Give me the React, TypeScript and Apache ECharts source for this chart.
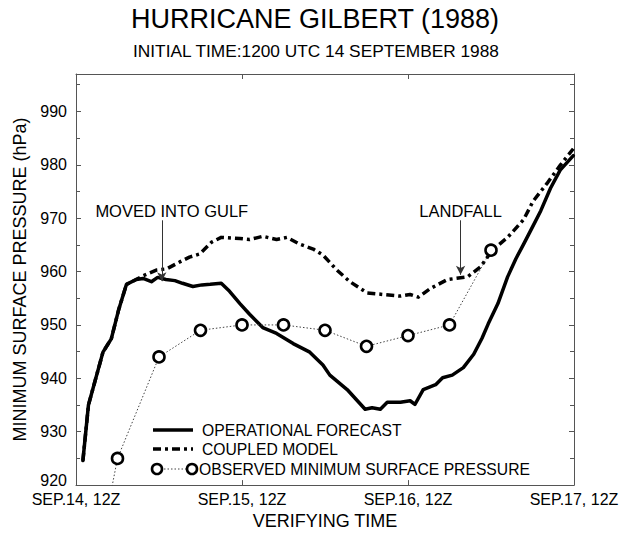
import React, { useEffect, useRef } from "react";
import * as echarts from "echarts";

const xTickLabels = ["SEP.14, 12Z", "SEP.15, 12Z", "SEP.16, 12Z", "SEP.17, 12Z"];

const opHours = [1, 1.8, 3.9, 5.1, 6.2, 7.3, 8.7, 9.7, 10.9, 11.8, 13, 14.3, 15.4, 16.9, 18.2, 19.4, 21, 22.2, 23.7, 25.1, 27, 29, 31.4, 33.8, 35.7, 36.7, 39.2, 41.8, 42.8, 44, 45, 46.9, 48.3, 49, 50.2, 52, 53, 54.4, 56, 57.5, 58.7, 59.6, 61, 62.4, 63.6, 64.7, 66.1, 67.2, 68.6, 70, 71.9];
const opValues = [924.6, 935, 944.9, 947.4, 953, 957.6, 958.5, 958.7, 958.1, 958.9, 958.5, 958.3, 957.8, 957.2, 957.5, 957.6, 957.8, 956.3, 954, 952, 949.5, 948.4, 946.5, 944.9, 942.5, 940.6, 937.9, 934.2, 934.5, 934.2, 935.5, 935.5, 935.8, 935.1, 937.9, 938.8, 940.1, 940.6, 942, 944.5, 947.5, 950.2, 954, 959, 962.4, 965.1, 968.6, 971.4, 975.6, 979, 981.7];

const cpHours = [1, 1.8, 3.9, 5.1, 6.2, 7.3, 8.7, 9.7, 11.7, 13.1, 15, 16.4, 17.9, 19.6, 21, 23.7, 25.1, 27, 29, 30.5, 32.4, 34.3, 35.7, 37.7, 39.6, 42.1, 44.4, 46.9, 48.3, 49.5, 51.2, 53.7, 56.6, 58.5, 60.2, 62.4, 64.7, 66.1, 68.1, 70, 71.9];
const cpValues = [924.6, 935, 944.9, 947.4, 953, 957.6, 958.5, 959.2, 960.3, 960.5, 961.8, 962.7, 963.3, 965.5, 966.4, 966.2, 966, 966.6, 966, 966.4, 965.1, 964.2, 963.1, 960.3, 958.1, 956, 955.7, 955.4, 955.7, 955.2, 956.8, 958.5, 959, 960.9, 964, 966.4, 969.7, 973.2, 976.5, 979.9, 983];

const obsHours = [0, 6, 12, 18, 24, 30, 36, 42, 48, 54, 60];
const obsValues = [885, 925, 944, 949, 950, 950, 949, 946, 948, 950, 964];

const seriesNames = ["OPERATIONAL FORECAST", "COUPLED MODEL", "OBSERVED MINIMUM SURFACE PRESSURE"];

const FONT = '"Liberation Sans", Arial, Helvetica, sans-serif';
const INK = "#000";
const FRAME = "#555";
const DASHDOT = [8, 4, 3, 4];

export default function App() {
  const ref = useRef<HTMLDivElement>(null);
  useEffect(() => {
    document.body.style.margin = "0";
    const chart = echarts.init(ref.current!, undefined, { renderer: "svg" });
    const pair = (h: number[], v: number[]) => h.map((x, i) => [x, v[i]]);
    const tickFmt = (v: number) => {
      if (v % 10 !== 0) return "";
      return v === 920 ? "{up|" + v + "}" : String(v);
    };
    const xFmt = (v: number) => {
      const i = Math.round(v / 24);
      return v % 24 === 0 && xTickLabels[i] ? xTickLabels[i] : "";
    };
    const annotate = (text: string, h: number, top: number, bottom: number, pad: number) => ({
      silent: true,
      symbol: ["none", "arrow"],
      symbolSize: [7, 9],
      lineStyle: { type: "solid", width: 1, color: "#333" },
      label: {
        show: true,
        position: "start",
        formatter: text,
        fontFamily: FONT,
        fontSize: 16.5,
        color: INK,
        distance: 1,
        padding: [0, 0, 0, pad],
      },
      data: [[{ coord: [h, top] }, { coord: [h, bottom] }]],
    });
    chart.setOption({
      animation: false,
      grid: { left: 76, right: 54, top: 74, bottom: 43 },
      xAxis: [
        {
          type: "value",
          min: 0,
          max: 72,
          interval: 24,
          name: "VERIFYING TIME",
          nameLocation: "middle",
          nameGap: 22,
          nameTextStyle: { fontFamily: FONT, fontSize: 18, color: INK },
          axisLine: { show: true, lineStyle: { color: FRAME, width: 1 } },
          axisTick: { show: true, inside: true, length: 5, lineStyle: { color: FRAME } },
          axisLabel: { formatter: xFmt, fontFamily: FONT, fontSize: 16, color: INK, margin: 6 },
          splitLine: { show: false },
        },
        {
          type: "value",
          position: "top",
          min: 0,
          max: 72,
          interval: 24,
          axisLine: { show: true, onZero: false, lineStyle: { color: FRAME, width: 1 } },
          axisTick: { show: true, inside: true, length: 5, lineStyle: { color: FRAME } },
          axisLabel: { show: false },
          splitLine: { show: false },
        },
      ],
      yAxis: [
        {
          type: "value",
          min: 920,
          max: 997,
          interval: 10,
          name: "MINIMUM SURFACE PRESSURE (hPa)",
          nameLocation: "middle",
          nameGap: 45,
          nameTextStyle: { fontFamily: FONT, fontSize: 18, color: INK },
          axisLine: { show: true, lineStyle: { color: FRAME, width: 1 } },
          axisTick: { show: true, inside: true, length: 5, lineStyle: { color: FRAME } },
          minorTick: { show: true, splitNumber: 2, length: 4, lineStyle: { color: FRAME } },
          axisLabel: {
            formatter: tickFmt,
            fontFamily: FONT,
            fontSize: 16,
            color: INK,
            margin: 9,
            showMaxLabel: false,
            rich: { up: { fontFamily: FONT, fontSize: 16, color: INK, padding: [0, 0, 9, 0] } },
          },
          splitLine: { show: false },
        },
        {
          type: "value",
          position: "right",
          min: 920,
          max: 997,
          interval: 10,
          axisLine: { show: true, onZero: false, lineStyle: { color: FRAME, width: 1 } },
          axisTick: { show: true, inside: true, length: 5, lineStyle: { color: FRAME } },
          minorTick: { show: true, splitNumber: 2, length: 4, lineStyle: { color: FRAME } },
          axisLabel: { show: false },
          splitLine: { show: false },
        },
      ],
      series: [
        {
          name: seriesNames[0],
          type: "line",
          data: pair(opHours, opValues),
          showSymbol: false,
          symbol: "none",
          lineStyle: { color: "#000", width: 3.5, join: "round", cap: "round" },
          z: 3,
          markLine: annotate("MOVED INTO GULF", 12.4, 969.6, 958.2, 20),
        },
        {
          name: seriesNames[1],
          type: "line",
          data: pair(cpHours, cpValues),
          showSymbol: false,
          symbol: "none",
          lineStyle: { color: "#000", width: 3.5, type: DASHDOT, join: "round" },
          z: 4,
          markLine: annotate("LANDFALL", 55.6, 969.6, 959.4, 0),
        },
        {
          name: seriesNames[2],
          type: "line",
          data: pair(obsHours, obsValues),
          symbol: "circle",
          symbolSize: 11,
          showSymbol: true,
          itemStyle: { color: "#fff", borderColor: "#000", borderWidth: 2.6 },
          lineStyle: { color: "#444", width: 1, type: [1.5, 2] },
          z: 5,
        },
      ],
      graphic: [
        {
          type: "text",
          x: 315,
          y: 19,
          style: { text: "HURRICANE GILBERT (1988)", fontFamily: FONT, fontSize: 27, fill: INK, textAlign: "center", textVerticalAlign: "middle" },
        },
        {
          type: "text",
          x: 316,
          y: 51,
          style: { text: "INITIAL TIME:1200 UTC 14 SEPTEMBER 1988", fontFamily: FONT, fontSize: 17.3, fill: INK, textAlign: "center", textVerticalAlign: "middle" },
        },
        { type: "line", shape: { x1: 153, y1: 430, x2: 193, y2: 430 }, style: { stroke: "#000", lineWidth: 3.5 } },
        { type: "line", shape: { x1: 153, y1: 449, x2: 193, y2: 449 }, style: { stroke: "#000", lineWidth: 3.5, lineDash: DASHDOT } },
        { type: "line", shape: { x1: 157, y1: 469, x2: 192, y2: 469 }, style: { stroke: "#444", lineWidth: 1, lineDash: [1.5, 2] } },
        { type: "circle", shape: { cx: 157, cy: 469, r: 5 }, style: { fill: "#fff", stroke: "#000", lineWidth: 2.6 } },
        { type: "circle", shape: { cx: 192, cy: 469, r: 5 }, style: { fill: "#fff", stroke: "#000", lineWidth: 2.6 } },
        { type: "text", x: 202, y: 430, style: { text: seriesNames[0], fontFamily: FONT, fontSize: 15.7, fill: INK, textVerticalAlign: "middle" } },
        { type: "text", x: 202, y: 449, style: { text: seriesNames[1], fontFamily: FONT, fontSize: 15.7, fill: INK, textVerticalAlign: "middle" } },
        { type: "text", x: 199, y: 469, style: { text: seriesNames[2], fontFamily: FONT, fontSize: 15.7, fill: INK, textVerticalAlign: "middle" } },
      ],
    });
    return () => chart.dispose();
  }, []);
  return <div ref={ref} style={{ width: 628, height: 535 }} />;
}
